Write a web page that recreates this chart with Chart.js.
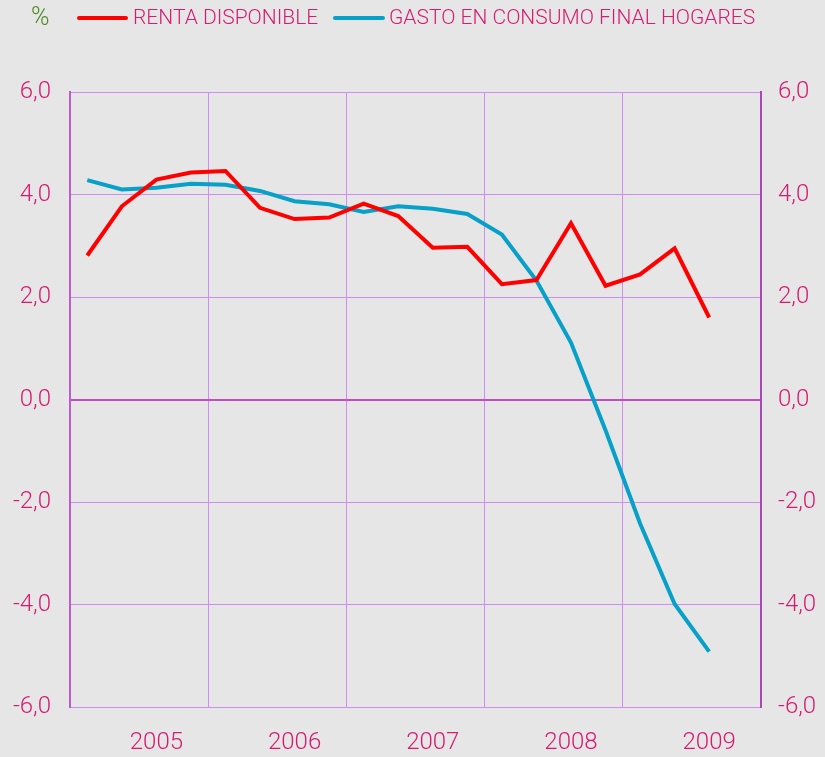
<!DOCTYPE html>
<html>
<head>
<meta charset="utf-8">
<script src="https://cdn.jsdelivr.net/npm/chart.js@4"></script>
<style>
  html, body { margin: 0; padding: 0; background: #e6e6e6; }
  #wrap { position: relative; width: 825px; height: 757px; }
  #legend { position: absolute; top: 0; left: 0; width: 825px; height: 40px;
    font-family: Roboto, "Liberation Sans", sans-serif; font-weight: 300; font-size: 21px; color: #d81b72; }
  #legend span { position: absolute; top: 5px; white-space: nowrap; }
  #legend .line { position: absolute; top: 16px; height: 4px; border-radius: 2px; }
</style>
</head>
<body>
<div id="wrap">
  <canvas id="chart" width="825" height="757"></canvas>
  <div id="legend">
    <span style="left:31px; top:2px; font-size:25px; color:#4f8a22;">%</span>
    <div class="line" style="left:77px; width:51px; background:#ff0000;"></div>
    <span style="left:133px;">RENTA DISPONIBLE</span>
    <div class="line" style="left:333px; width:52px; background:#06a0c8;"></div>
    <span style="left:389px;">GASTO EN CONSUMO FINAL HOGARES</span>
  </div>
</div>
<script>
// trimestres 2005-2009
const quarters = [
  '2005 I', '2005 II', '2005 III', '2005 IV',
  '2006 I', '2006 II', '2006 III', '2006 IV',
  '2007 I', '2007 II', '2007 III', '2007 IV',
  '2008 I', '2008 II', '2008 III', '2008 IV',
  '2009 I', '2009 II', '2009 III', '2009 IV'
];
const rentaDisponible = [2.81, 3.77, 4.29, 4.43, 4.46, 3.74, 3.52, 3.55, 3.82, 3.58,
  2.96, 2.98, 2.25, 2.33, 3.44, 2.22, 2.44, 2.95, 1.60];
const gastoConsumo = [4.28, 4.10, 4.13, 4.21, 4.19, 4.07, 3.87, 3.81, 3.66, 3.77,
  3.72, 3.62, 3.22, 2.32, 1.11, -0.60, -2.42, -3.99, -4.92];
const yMin = -6, yMax = 6, yStep = 2;

const pink = '#d81b72';
const gridLight = '#d08cf2';
const axisPurple = '#bb5ccc';

function fmt(v) { return v.toFixed(1).replace('.', ','); }

const ctx = document.getElementById('chart').getContext('2d');
new Chart(ctx, {
  type: 'line',
  data: {
    labels: quarters,
    datasets: [
      { label: 'RENTA DISPONIBLE', data: rentaDisponible, borderColor: '#ff0000',
        borderWidth: 4, pointRadius: 0, tension: 0, yAxisID: 'y' },
      { label: 'GASTO EN CONSUMO FINAL HOGARES', data: gastoConsumo, borderColor: '#06a0c8',
        borderWidth: 4, pointRadius: 0, tension: 0, yAxisID: 'y' }
    ]
  },
  options: {
    responsive: false,
    animation: false,
    layout: { padding: { top: 92, left: 0, right: 0, bottom: 0 } },
    plugins: { legend: { display: false }, tooltip: { enabled: false } },
    scales: {
      x: {
        offset: true,
        grid: {
          offset: true,
          drawTicks: false,
          lineWidth: 1,
          color: (c) => (c.index % 4 === 0 && c.index > 0 && c.index < quarters.length) ? gridLight : 'rgba(0,0,0,0)'
        },
        border: { color: gridLight, width: 1 },
        ticks: {
          autoSkip: false, maxRotation: 0, minRotation: 0, padding: 22,
          color: pink,
          font: { family: 'Roboto', size: 24, weight: 300 },
          callback: function (val, i) { return i % 4 === 2 ? this.getLabelForValue(val).slice(0, 4) : ''; }
        },
        afterFit: (s) => { s.height = 50; }
      },
      y: {
        position: 'left', min: yMin, max: yMax,
        grid: {
          drawTicks: false,
          color: (c) => c.tick && c.tick.value === 0 ? '#c04cc4' : gridLight,
          lineWidth: (c) => c.tick && c.tick.value === 0 ? 2 : 1
        },
        border: { color: axisPurple, width: 2 },
        ticks: {
          stepSize: yStep, padding: 19, color: pink,
          font: { family: 'Roboto', size: 24, weight: 300 },
          callback: (v) => fmt(v)
        },
        afterFit: (s) => { s.width = 70; }
      },
      y2: {
        position: 'right', min: yMin, max: yMax,
        grid: { drawOnChartArea: false, drawTicks: false },
        border: { color: '#a848b8', width: 2 },
        ticks: {
          stepSize: yStep, padding: 17, color: pink,
          font: { family: 'Roboto', size: 24, weight: 300 },
          callback: (v) => fmt(v)
        },
        afterFit: (s) => { s.width = 64; }
      }
    }
  }
});
</script>
</body>
</html>
